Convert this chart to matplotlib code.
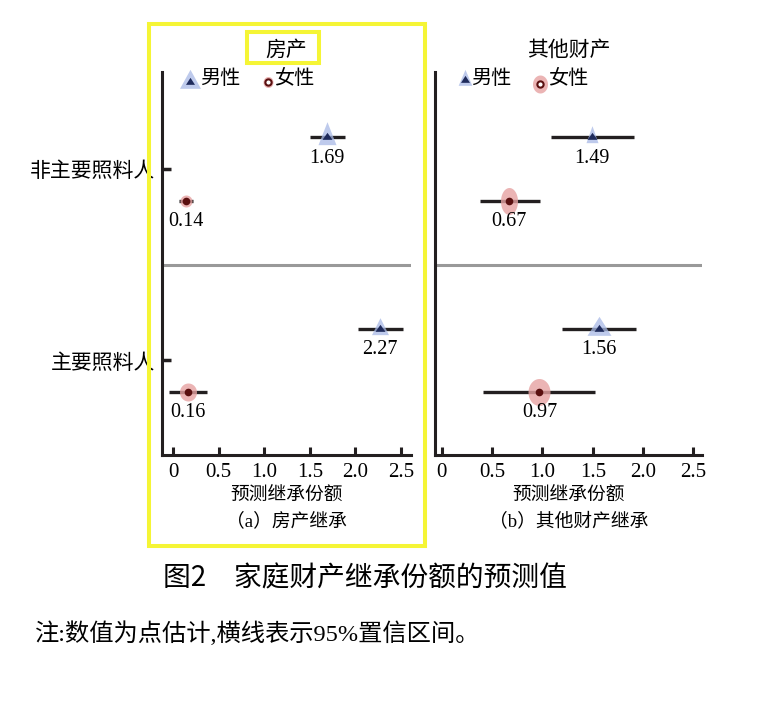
import numpy as np
import matplotlib.pyplot as plt
from matplotlib.lines import Line2D
from matplotlib.patches import Rectangle
from matplotlib.transforms import Affine2D

plt.rcParams['font.family'] = ['Liberation Serif', 'Noto Sans CJK SC']

# data
groups = ['非主要照料人', '主要照料人']
tick_vals = [0, 0.5, 1.0, 1.5, 2.0, 2.5]
tick_text = ['0', '0.5', '1.0', '1.5', '2.0', '2.5']

house_male = [1.69, 2.27]
house_male_lo = [1.50, 2.03]
house_male_hi = [1.89, 2.52]
house_female = [0.14, 0.16]
house_female_lo = [0.07, -0.04]
house_female_hi = [0.22, 0.37]

other_male = [1.49, 1.56]
other_male_lo = [1.09, 1.19]
other_male_hi = [1.91, 1.93]
other_female = [0.67, 0.97]
other_female_lo = [0.38, 0.41]
other_female_hi = [0.98, 1.52]

# layout / style
W, H = 775, 707
group_y = [3, 1]
off = 0.33
blue, navy = '#a8b9e6', '#1f2b5c'
pink, maroon = '#e6a2a2', '#5a1010'
ink = '#231f20'
yellow = '#f5f535'
cjk = ['Noto Sans CJK SC']

# big marker sizes in px (w, h)
house_msize = [(18, 23), (17, 17)]
house_fsize = [(12, 12), (17, 18)]
other_msize = [(12, 17), (24, 19)]
other_fsize = [(17, 27), (22, 27)]


def tri_marker(w, h):
    verts = [(-w / 2, -h / 3), (w / 2, -h / 3), (0, 2 * h / 3), (-w / 2, -h / 3)]
    return verts, 2 * max(w / 2, 2 * h / 3) * 0.72


def ell_marker(w, h):
    t = np.linspace(0, 2 * np.pi, 60)
    verts = np.column_stack([w / 2 * np.cos(t), h / 2 * np.sin(t)])
    return verts, max(w, h) * 0.72


fig = plt.figure(figsize=(W / 100, H / 100), dpi=100)
px = Affine2D().scale(1 / W, -1 / H).translate(0, 1) + fig.transFigure

axL = fig.add_axes([162 / W, 1 - 455 / H, 249 / W, 383 / H])
axR = fig.add_axes([435 / W, 1 - 455 / H, 267 / W, 383 / H])


def panel(ax, male, mlo, mhi, female, flo, fhi, msize, fsize, xlim, title, sub):
    for i in range(2):
        ym = group_y[i] + off
        ax.plot([mlo[i], mhi[i]], [ym, ym], color=ink, lw=2.4, solid_capstyle='butt', zorder=2)
        v, ms = tri_marker(*msize[i])
        ax.plot(male[i], ym, marker=v, ms=ms, color=blue, mec='none', alpha=0.75, zorder=3)
        v, ms = tri_marker(10, 7)
        ax.plot(male[i], ym, marker=v, ms=ms, color=navy, mec='none', zorder=4)
        ax.annotate(f'{male[i]:.2f}', (male[i], ym), xytext=(0, -15), textcoords='offset points',
                    ha='center', va='center', fontsize=14.5)

        yf = group_y[i] - off
        ax.plot([flo[i], fhi[i]], [yf, yf], color=ink, lw=2.4, solid_capstyle='butt', zorder=2)
        v, ms = ell_marker(*fsize[i])
        ax.plot(female[i], yf, marker=v, ms=ms, color=pink, mec='none', alpha=0.8, zorder=3)
        ax.plot(female[i], yf, marker='o', ms=5.5, color=maroon, mec='none', zorder=4)
        ax.annotate(f'{female[i]:.2f}', (female[i], yf), xytext=(0, -15), textcoords='offset points',
                    ha='center', va='center', fontsize=14.5)

    ax.axhline(2, color='#999999', lw=2.2, zorder=1)
    ax.set_xlim(*xlim)
    ax.set_ylim(0.01, 4.014)
    for s in ['top', 'right']:
        ax.spines[s].set_visible(False)
    for s in ['left', 'bottom']:
        ax.spines[s].set_linewidth(2.2)
        ax.spines[s].set_color(ink)
    ax.set_xticks(tick_vals)
    ax.set_xticklabels(tick_text, fontsize=15)
    ax.tick_params(axis='x', direction='in', length=5.8, width=2.2, color=ink, pad=6)
    ax.set_title(title, fontsize=15, family=cjk, pad=12)
    ax.text(0.5, -0.102, '预测继承份额', transform=ax.transAxes, ha='center', va='center',
            fontsize=13.5, family=cjk)
    ax.text(0.5, -0.172, sub, transform=ax.transAxes, ha='center', va='center', fontsize=13.5)


panel(axL, house_male, house_male_lo, house_male_hi, house_female, house_female_lo, house_female_hi,
      house_msize, house_fsize, (-0.12, 2.61), '房产', '（a）房产继承')
panel(axR, other_male, other_male_lo, other_male_hi, other_female, other_female_lo, other_female_hi,
      other_msize, other_fsize, (-0.067, 2.585), '其他财产', '（b）其他财产继承')

axL.set_yticks(group_y)
axL.set_yticklabels(groups, fontsize=15, family=cjk)
axL.tick_params(axis='y', direction='in', length=6.5, width=2.5, color=ink, pad=5)
axR.set_yticks([])


# legend keys
def key(x, y, kind, size, label, tx):
    if kind == 'm':
        v, ms = tri_marker(*size)
        fig.add_artist(Line2D([x], [y], transform=px, marker=v, ms=ms, color=blue, mec='none', alpha=0.75))
        v, ms = tri_marker(9, 7)
        fig.add_artist(Line2D([x], [y], transform=px, marker=v, ms=ms, color=navy, mec='none'))
    else:
        v, ms = ell_marker(*size)
        fig.add_artist(Line2D([x], [y], transform=px, marker=v, ms=ms, color=pink, mec='none', alpha=0.8))
        fig.add_artist(Line2D([x], [y], transform=px, marker='o', ms=4.5, mfc='white', mec=maroon, mew=1.5))
    fig.text(tx / W, 1 - 79 / H, label, ha='left', va='center', fontsize=14.5, family=cjk)


key(189.5, 81.5, 'm', (21, 19), '男性', 200)
key(267.7, 82, 'f', (10, 11), '女性', 274)
key(465, 80, 'm', (13.7, 16), '男性', 471)
key(540, 84, 'f', (15, 18), '女性', 548)

# highlight boxes
fig.add_artist(Rectangle((149 / W, 1 - 546 / H), 276 / W, 522 / H, transform=fig.transFigure,
                         fill=False, ec=yellow, lw=2.9, zorder=10))
fig.add_artist(Rectangle((247 / W, 1 - 63 / H), 72 / W, 31 / H, transform=fig.transFigure,
                         fill=False, ec=yellow, lw=2.9, zorder=10))

fig.text(365 / W, 1 - 578 / H, '图2\u3000家庭财产继承份额的预测值', ha='center', va='center',
         fontsize=20, family=cjk)
fig.text(35 / W, 1 - 634 / H, '注:数值为点估计,横线表示95%置信区间。', ha='left', va='center',
         fontsize=17.5)

fig.savefig('out.png', dpi=100)
